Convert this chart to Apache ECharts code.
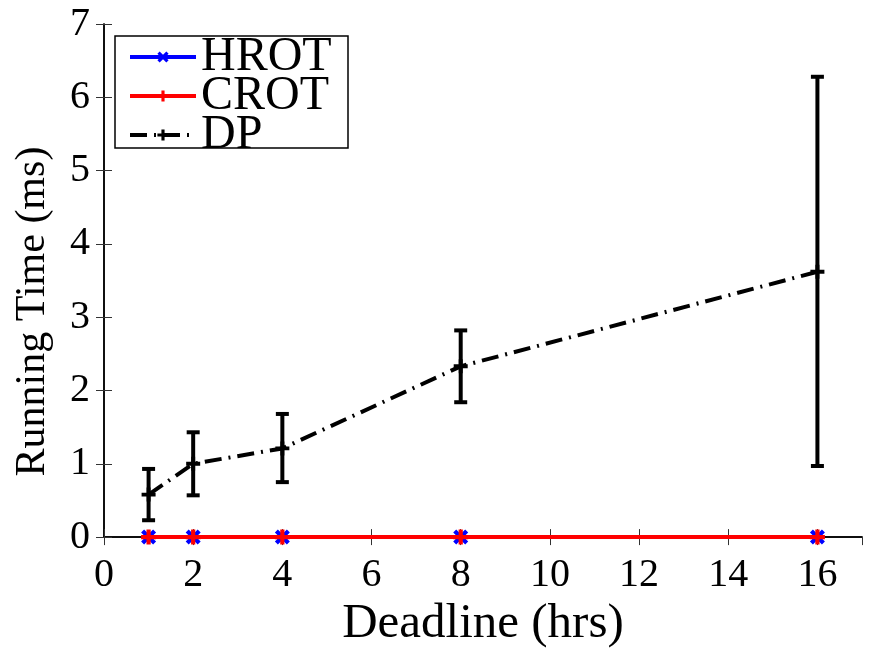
<!DOCTYPE html>
<html>
<head>
<meta charset="utf-8">
<script src="https://cdn.jsdelivr.net/npm/echarts@6/dist/echarts.min.js"></script>
<style>
html,body{margin:0;padding:0;background:#fff;}
#chart{width:869px;height:654px;}
</style>
</head>
<body>
<div id="chart"></div>
<script>
// ---- data ----
const deadlines = [1, 2, 4, 8, 16];
const hrotTime = [0, 0, 0, 0, 0];
const crotTime = [0, 0, 0, 0, 0];
const dpTime = [0.58, 1.00, 1.21, 2.33, 3.62];
const dpLow = [0.23, 0.57, 0.75, 1.84, 0.97];
const dpHigh = [0.93, 1.43, 1.68, 2.82, 6.28];
const seriesNames = ['HROT', 'CROT', 'DP'];
const xTitle = 'Deadline (hrs)';
const yTitle = 'Running Time (ms)';

const FONT = '"Liberation Serif", "Times New Roman", serif';
const X_PATH = 'path://M0,2 L2,0 L5,3 L8,0 L10,2 L7,5 L10,8 L8,10 L5,7 L2,10 L0,8 L3,5 Z';
const PLUS_PATH = 'path://M3.6,0 H6.4 V3.6 H10 V6.4 H6.4 V10 H3.6 V6.4 H0 V3.6 H3.6 Z';

const pairs = (ys) => deadlines.map((x, i) => [x, ys[i]]);

const chart = echarts.init(document.getElementById('chart'), null, {renderer: 'canvas'});

const axisBase = {
  type: 'value',
  axisLine: {show: true, lineStyle: {color: '#000', width: 1.5}},
  axisTick: {show: true, inside: true, length: 8, lineStyle: {color: '#333', width: 1}},
  splitLine: {show: false}
};

const option = {
  animation: false,
  backgroundColor: '#fff',
  grid: {left: 104, right: 7, top: 24, bottom: 115, containLabel: false},
  graphic: [{
    type: 'rect', z: 3, silent: true,
    shape: {x: 115, y: 36, width: 233, height: 112},
    style: {fill: '#fff', stroke: '#000', lineWidth: 1.5}
  }],
  legend: {
    data: seriesNames,
    orient: 'vertical',
    left: 115, top: 33,
    itemGap: -9,
    itemWidth: 66,
    itemHeight: 14,
    padding: [0, 14, 0, 13],
    lineStyle: {width: 4},
    textStyle: {fontFamily: FONT, fontSize: 48, lineHeight: 36, color: '#000'}
  },
  xAxis: [
    Object.assign({}, axisBase, {
      position: 'bottom', min: 0, max: 17, interval: 2,
      name: xTitle, nameLocation: 'middle', nameGap: 62,
      nameTextStyle: {fontFamily: FONT, fontSize: 49, color: '#000'},
      axisLabel: {show: true, margin: 18, fontFamily: FONT, fontSize: 40, color: '#000', showMaxLabel: false}
    }),
    Object.assign({}, axisBase, {
      position: 'top', min: 0, max: 17, interval: 2,
      axisLabel: {show: false}
    })
  ],
  yAxis: [
    Object.assign({}, axisBase, {
      position: 'left', min: 0, max: 7, interval: 1,
      name: yTitle, nameLocation: 'middle', nameGap: 50,
      nameTextStyle: {fontFamily: FONT, fontSize: 42, color: '#000', padding: [0, 62, 0, 0]},
      axisLabel: {show: true, margin: 14, fontFamily: FONT, fontSize: 40, color: '#000'}
    }),
    Object.assign({}, axisBase, {
      position: 'right', min: 0, max: 7, interval: 1,
      axisLabel: {show: false}
    })
  ],
  series: [
    {
      name: 'DP', type: 'line', data: pairs(dpTime),
      symbol: PLUS_PATH, symbolSize: 14, showAllSymbol: true,
      lineStyle: {color: '#000', width: 4, type: [17, 7, 2, 7]},
      itemStyle: {color: '#000'},
      z: 3
    },
    {
      name: 'DP-err', type: 'custom',
      data: deadlines.map((x, i) => [x, dpLow[i], dpHigh[i]]),
      encode: {x: 0, y: [1, 2]},
      z: 4, silent: true,
      renderItem: function (params, api) {
        const x = api.value(0);
        const lo = api.coord([x, api.value(1)]);
        const hi = api.coord([x, api.value(2)]);
        const hw = 6.5;
        const st = {stroke: '#000', lineWidth: 4};
        return {
          type: 'group',
          children: [
            {type: 'line', shape: {x1: lo[0], y1: lo[1], x2: hi[0], y2: hi[1]}, style: st},
            {type: 'line', shape: {x1: lo[0] - hw, y1: lo[1], x2: lo[0] + hw, y2: lo[1]}, style: st},
            {type: 'line', shape: {x1: hi[0] - hw, y1: hi[1], x2: hi[0] + hw, y2: hi[1]}, style: st}
          ]
        };
      }
    },
    {
      name: 'HROT', type: 'line', data: pairs(hrotTime),
      symbol: X_PATH, symbolSize: 15, showAllSymbol: true,
      lineStyle: {color: '#0000ff', width: 4},
      itemStyle: {color: '#0000ff'},
      z: 5
    },
    {
      name: 'CROT', type: 'line', data: pairs(crotTime),
      symbol: PLUS_PATH, symbolSize: 15, showAllSymbol: true,
      lineStyle: {color: '#ff0000', width: 4},
      itemStyle: {color: '#ff0000'},
      z: 6
    }
  ]
};
chart.setOption(option);
</script>
</body>
</html>
